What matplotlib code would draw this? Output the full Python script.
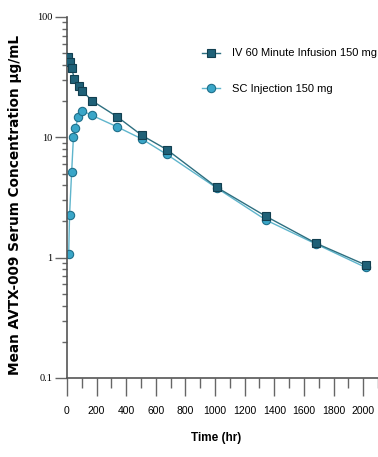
import matplotlib
matplotlib.use("Agg")
import matplotlib.pyplot as plt
from matplotlib.ticker import MultipleLocator, LogLocator, FixedFormatter, FixedLocator, NullFormatter

# data
iv_time = [8, 20, 32, 50, 80, 104, 170, 340, 505, 675, 1010, 1345, 1680, 2016]
iv_conc = [46.7, 42.4, 37.4, 30.8, 26.6, 24.3, 20.1, 14.8, 10.4, 7.9, 3.85, 2.2, 1.32, 0.87]

sc_time = [12, 18, 32, 44, 56, 78, 104, 170, 340, 505, 675, 1010, 1345, 1680, 2016]
sc_conc = [1.07, 2.28, 5.14, 10.0, 11.9, 14.8, 16.6, 15.2, 12.2, 9.7, 7.2, 3.8, 2.05, 1.30, 0.83]

x_ticks = [0, 200, 400, 600, 800, 1000, 1200, 1400, 1600, 1800, 2000]
y_ticks = [0.1, 1, 10, 100]
y_tick_labels = ["0.1", "1", "10", "100"]

narrow = "Liberation Sans"

fig = plt.figure(figsize=(3.78, 4.57), dpi=100)
ax = fig.add_axes([0.177, 0.1729, 0.823, 0.79])

ax.plot(iv_time, iv_conc, '-', color='#2d6f80', lw=1.0, marker='s', ms=6,
        mfc='#1f6178', mec='#123f50', mew=0.8, label='IV 60 Minute Infusion 150 mg', zorder=3)
ax.plot(sc_time, sc_conc, '-', color='#5fb5cc', lw=1.0, marker='o', ms=6,
        mfc='#3aa6c8', mec='#1f6f8a', mew=0.8, label='SC Injection 150 mg', zorder=2)

ax.set_yscale('log')
ax.set_ylim(0.1, 100)
ax.set_xlim(0, 2100)

ax.yaxis.set_major_locator(FixedLocator(y_ticks))
ax.yaxis.set_major_formatter(FixedFormatter(y_tick_labels))
ax.yaxis.set_minor_locator(LogLocator(base=10, subs=range(2, 10)))
ax.yaxis.set_minor_formatter(NullFormatter())

ax.set_xticks(x_ticks)
ax.xaxis.set_minor_locator(MultipleLocator(100))

ax.tick_params(axis='x', which='major', direction='out', length=13, width=1, color='#666666',
               labelsize=7.5, pad=7)
ax.tick_params(axis='x', which='minor', direction='out', length=7, width=1, color='#666666')
ax.tick_params(axis='y', which='major', direction='out', length=8.5, width=1, color='#666666',
               labelsize=7.5, pad=2)
ax.tick_params(axis='y', which='minor', direction='out', length=3.5, width=1, color='#666666')
for lab in ax.get_yticklabels():
    lab.set_family('Liberation Serif')
for lab in ax.get_xticklabels():
    lab.set_family(narrow)

for s in ['top', 'right']:
    ax.spines[s].set_visible(False)
for s in ['left', 'bottom']:
    ax.spines[s].set_color('#555555')
    ax.spines[s].set_linewidth(1.2)

ax.set_ylabel('Mean AVTX-009 Serum Concentration µg/mL', fontsize=9.8,
              fontweight='bold', family='DejaVu Sans')
ax.yaxis.set_label_coords(-0.145, 0.48)
ax.set_xlabel('Time (hr)', fontsize=8.5, fontweight='bold', family=narrow)
ax.xaxis.set_label_coords(0.48, -0.15)

ax.legend(loc='upper left', bbox_to_anchor=(0.42, 0.925), frameon=False,
          prop={'family': narrow, 'size': 8}, labelspacing=2.3,
          handlelength=1.6, handletextpad=1.1, borderaxespad=0)

fig.savefig('out.png', dpi=100)
